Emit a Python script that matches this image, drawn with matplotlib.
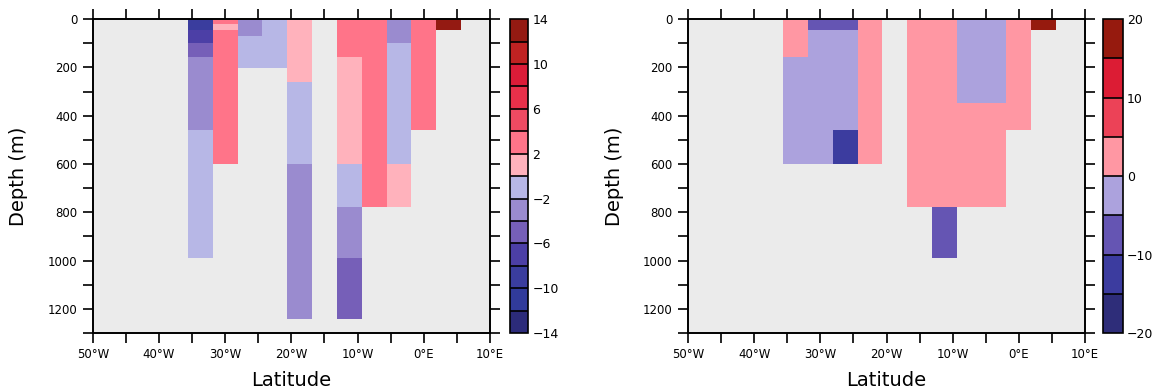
import matplotlib
matplotlib.use("Agg")
import matplotlib.pyplot as plt
import numpy as np
from matplotlib.colors import ListedColormap, BoundaryNorm

# grid: longitude centres (3.75 deg spacing) and depth layer edges (m)
lon_centres = [-33.75, -30.0, -26.25, -22.5, -18.75, -15.0, -11.25, -7.5, -3.75, 0.0, 3.75]
depth_edges = [0, 22, 47, 72, 100, 158, 204, 262, 349, 460, 601, 780, 990, 1243]

n = np.nan
# values per longitude column, top layer first (13 layers)
left_cols = [
    [-9, -9, -7, -7, -5, -3, -3, -3, -3, -1, -1, -1, n],
    [3, 1, 3, 3, 3, 3, 3, 3, 3, 3, n, n, n],
    [-3, -3, -3, -1, -1, -1, n, n, n, n, n, n, n],
    [-1, -1, -1, -1, -1, -1, n, n, n, n, n, n, n],
    [1, 1, 1, 1, 1, 1, 1, -1, -1, -1, -3, -3, -3],
    [n, n, n, n, n, n, n, n, n, n, n, n, n],
    [3, 3, 3, 3, 3, 1, 1, 1, 1, 1, -1, -3, -5],
    [3, 3, 3, 3, 3, 3, 3, 3, 3, 3, 3, n, n],
    [-3, -3, -3, -3, -1, -1, -1, -1, -1, -1, 1, n, n],
    [3, 3, 3, 3, 3, 3, 3, 3, 3, n, n, n, n],
    [13, 13, n, n, n, n, n, n, n, n, n, n, n],
]
right_cols = [
    [2.5, 2.5, 2.5, 2.5, 2.5, -2.5, -2.5, -2.5, -2.5, -2.5, n, n, n],
    [-7.5, -7.5, -2.5, -2.5, -2.5, -2.5, -2.5, -2.5, -2.5, -2.5, n, n, n],
    [-7.5, -7.5, -2.5, -2.5, -2.5, -2.5, -2.5, -2.5, -2.5, -12.5, n, n, n],
    [2.5, 2.5, 2.5, 2.5, 2.5, 2.5, 2.5, 2.5, 2.5, 2.5, n, n, n],
    [n, n, n, n, n, n, n, n, n, n, n, n, n],
    [2.5, 2.5, 2.5, 2.5, 2.5, 2.5, 2.5, 2.5, 2.5, 2.5, 2.5, n, n],
    [2.5, 2.5, 2.5, 2.5, 2.5, 2.5, 2.5, 2.5, 2.5, 2.5, 2.5, -7.5, n],
    [-2.5, -2.5, -2.5, -2.5, -2.5, -2.5, -2.5, -2.5, 2.5, 2.5, 2.5, n, n],
    [-2.5, -2.5, -2.5, -2.5, -2.5, -2.5, -2.5, -2.5, 2.5, 2.5, 2.5, n, n],
    [2.5, 2.5, 2.5, 2.5, 2.5, 2.5, 2.5, 2.5, 2.5, n, n, n, n],
    [17.5, 17.5, n, n, n, n, n, n, n, n, n, n, n],
]

left_levels = list(range(-14, 15, 2))
left_colors = ["#2c2b7a", "#313b9b", "#3a3d9e", "#4c3fa6", "#765fb8", "#9a8bcf", "#b7b7e6",
               "#ffb2bc", "#ff7489", "#ee4a62", "#e8304a", "#dc1c38", "#c02222", "#941a12"]
left_ticks = [-14, -10, -6, -2, 2, 6, 10, 14]

right_levels = list(range(-20, 21, 5))
right_colors = ["#2e2d79", "#3c3c9f", "#6555b3", "#aca2dd", "#ff97a3", "#ec4257", "#dc1c34", "#961a0e"]
right_ticks = [-20, -10, 0, 10, 20]

xticks = [-50, -40, -30, -20, -10, 0, 10]
xticklabels = ["50°W", "40°W", "30°W", "20°W", "10°W", "0°E", "10°E"]

plt.rcParams['font.family'] = ['DejaVu Sans']

fig = plt.figure(figsize=(11.61, 3.9), dpi=100)

lon_c = np.array(lon_centres)
lon_edges = np.concatenate([lon_c - 1.875, [lon_c[-1] + 1.875]])


def panel(ax_rect, cb_rect, cols, levels, colors, cticks):
    ax = fig.add_axes(ax_rect)
    ax.set_facecolor("#ebebeb")
    data = np.ma.masked_invalid(np.array(cols, dtype=float).T)
    cmap = ListedColormap(colors)
    norm = BoundaryNorm(levels, cmap.N)
    mesh = ax.pcolormesh(lon_edges, depth_edges, data, cmap=cmap, norm=norm)
    ax.set_xlim(-50, 10)
    ax.set_ylim(1300, 0)
    ax.set_xticks(xticks)
    ax.set_xticklabels(xticklabels)
    ax.set_xticks(np.arange(-45, 10, 10), minor=True)
    ax.set_yticks(np.arange(0, 1201, 200))
    ax.set_yticks(np.arange(100, 1301, 200), minor=True)
    ax.tick_params(which="both", direction="out", length=7, width=1.2,
                   top=True, right=True, labelsize=8.5, pad=4)
    for s in ax.spines.values():
        s.set_linewidth(1.4)
    ax.set_xlabel("Latitude", fontsize=14, labelpad=7)
    ax.set_ylabel("Depth (m)", fontsize=14, labelpad=14)

    cax = fig.add_axes(cb_rect)
    cb = fig.colorbar(mesh, cax=cax, ticks=cticks, drawedges=True)
    cb.dividers.set_color("black")
    cb.dividers.set_linewidth(1.2)
    cb.outline.set_linewidth(1.2)
    cax.minorticks_off()
    cax.tick_params(which="both", length=0, labelsize=9, pad=3)
    return ax


panel([0.080, 0.146, 0.342, 0.805], [0.439, 0.146, 0.016, 0.805],
      left_cols, left_levels, left_colors, left_ticks)
panel([0.5926, 0.146, 0.342, 0.805], [0.950, 0.146, 0.017, 0.805],
      right_cols, right_levels, right_colors, right_ticks)

fig.savefig("out.png", dpi=100)
